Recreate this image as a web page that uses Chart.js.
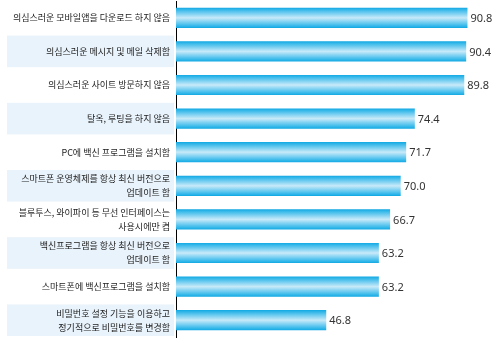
<!DOCTYPE html>
<html lang="ko">
<head>
<meta charset="utf-8">
<script src="https://cdn.jsdelivr.net/npm/chart.js@4/dist/chart.umd.min.js"></script>
<style>
  html, body { margin: 0; padding: 0; background: #fff; }
  #wrap { width: 500px; height: 343px; position: relative; }
</style>
</head>
<body>
<div id="wrap"><canvas id="securityChart"></canvas></div>
<script>
// 항목 (여러 줄 라벨은 배열로)
const categories = [
    '의심스러운 모바일앱을 다운로드 하지 않음',
    '의심스러운 메시지 및 메일 삭제함',
    '의심스러운 사이트 방문하지 않음',
    '탈옥, 루팅을 하지 않음',
    'PC에 백신 프로그램을 설치함',
    ['스마트폰 운영체제를 항상 최신 버전으로', '업데이트 함'],
    ['블루투스, 와이파이 등 무선 인터페이스는', '사용시에만 켬'],
    ['백신프로그램을 항상 최신 버전으로', '업데이트 함'],
    '스마트폰에 백신프로그램을 설치함',
    ['비밀번호 설정 기능을 이용하고', '정기적으로 비밀번호를 변경함']
];
const values = [90.8, 90.4, 89.8, 74.4, 71.7, 70.0, 66.7, 63.2, 63.2, 46.8];
const xRange = [0, 100];

// 막대마다 위아래가 진하고 가운데가 밝은 세로 그라데이션
function barGradient(ctx) {
    const chart = ctx.chart;
    const yScale = chart.scales.y;
    if (!yScale || ctx.dataIndex === undefined) return '#1ab0e6';
    const center = yScale.getPixelForValue(ctx.dataIndex);
    if (!isFinite(center)) return '#1ab0e6';
    const half = 10;
    const g = chart.ctx.createLinearGradient(0, center - half, 0, center + half);
    g.addColorStop(0, '#12a9e3');
    g.addColorStop(0.12, '#3dbbeb');
    g.addColorStop(0.5, '#c8eaf9');
    g.addColorStop(0.88, '#3dbbeb');
    g.addColorStop(1, '#12a9e3');
    return g;
}

// 짝수 행 라벨 뒤 연한 배경
const rowShading = {
    id: 'rowShading',
    beforeDraw(chart) {
        const { ctx, scales: { y } } = chart;
        const pitch = Math.abs(y.getPixelForValue(1) - y.getPixelForValue(0));
        ctx.save();
        ctx.fillStyle = '#e9f3fb';
        categories.forEach((c, i) => {
            if (i % 2 === 0) return;
            const cy = y.getPixelForValue(i);
            ctx.fillRect(7, cy - pitch / 2 + 1, 167, pitch - 2);
        });
        ctx.restore();
    }
};

// 막대 끝 값 표시
const valueLabels = {
    id: 'valueLabels',
    afterDatasetsDraw(chart) {
        const { ctx } = chart;
        const meta = chart.getDatasetMeta(0);
        ctx.save();
        ctx.font = '11px "Noto Sans", sans-serif';
        ctx.fillStyle = '#333';
        ctx.textAlign = 'left';
        ctx.textBaseline = 'middle';
        meta.data.forEach((bar, i) => {
            ctx.fillText(values[i].toFixed(1), bar.x + 3, bar.y + 1);
        });
        ctx.restore();
    }
};

new Chart(document.getElementById('securityChart'), {
    type: 'bar',
    data: {
        labels: categories,
        datasets: [{
            data: values,
            backgroundColor: barGradient,
            borderWidth: 0,
            barPercentage: 0.6,
            categoryPercentage: 1.0
        }]
    },
    options: {
        indexAxis: 'y',
        responsive: true,
        maintainAspectRatio: false,
        animation: false,
        layout: { padding: { top: 1, bottom: 6, right: 3, left: 0 } },
        plugins: {
            legend: { display: false },
            tooltip: { enabled: false }
        },
        scales: {
            x: {
                display: false,
                min: xRange[0],
                max: xRange[1]
            },
            y: {
                afterFit(scale) {
                    scale.width = 176;
                    // 첫/마지막 라벨 때문에 생기는 위아래 여백 제거
                    scale.paddingTop = 0;
                    scale.paddingBottom = 0;
                },
                grid: { display: false, drawTicks: false },
                border: { display: true, color: '#000', width: 1 },
                ticks: {
                    autoSkip: false,
                    padding: 6,
                    color: '#222',
                    font: { family: '"Noto Sans CJK KR", sans-serif', size: 9, lineHeight: 1.55 }
                }
            }
        }
    },
    plugins: [rowShading, valueLabels]
});
</script>
</body>
</html>
